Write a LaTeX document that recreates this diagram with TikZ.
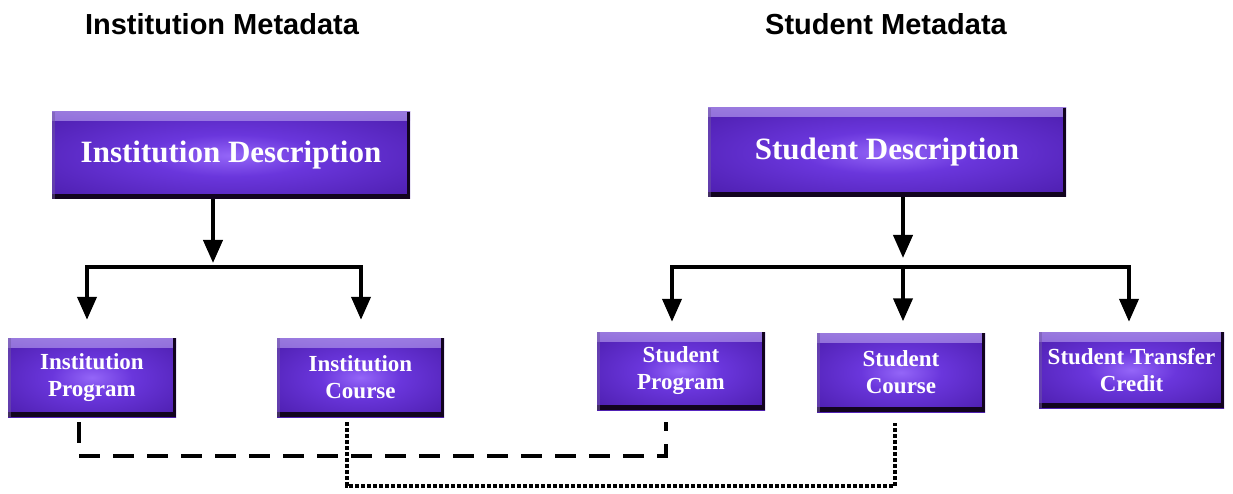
\documentclass[tikz,border=0pt]{standalone}
\usepackage{fontspec}
\setmainfont{Liberation Serif}
\setsansfont{Liberation Sans}
\usetikzlibrary{arrows.meta}
\definecolor{pIn}{HTML}{9466F8}
\definecolor{pMid}{HTML}{6A36DC}
\definecolor{pOut}{HTML}{4E1FB0}
\definecolor{pEdge}{HTML}{36107E}
\definecolor{pDark}{HTML}{12041F}
\definecolor{pHi}{HTML}{B9A0F2}
\pgfdeclareradialshading{glow}{\pgfpoint{0bp}{0bp}}{color(0bp)=(pIn); color(12bp)=(pMid); color(34bp)=(pOut); color(50bp)=(pEdge)}
\tikzset{
  box/.style={rectangle, inner sep=2pt, shading=glow, text=white, align=center,
    font=\bfseries\fontsize{23}{27}\selectfont,
    path picture={
      \shade[top color=pHi, bottom color=pOut, opacity=0.7]
        (path picture bounding box.north west) rectangle ([yshift=-9pt]path picture bounding box.north east);
      \fill[pDark] (path picture bounding box.south west) rectangle ([yshift=5pt]path picture bounding box.south east);
      \fill[pDark] ([xshift=-3pt]path picture bounding box.south east) rectangle (path picture bounding box.north east);
      \fill[pEdge!70!white, opacity=0.5] (path picture bounding box.south west) rectangle ([xshift=3pt]path picture bounding box.north west);
    }},
  bigbox/.style={font=\bfseries\fontsize{31}{36}\selectfont},
}
\begin{document}
\begin{tikzpicture}[x=1pt,y=-1pt, line join=miter,
  arr/.style={line width=4pt, -{Triangle[width=19pt,length=23pt]}},
  arrs/.style={line width=4pt, {Triangle[width=19pt,length=23pt]}-{Triangle[width=19pt,length=23pt]}},
  dashline/.style={line width=3.5pt, dash pattern=on 21pt off 13pt},
  dotline/.style={line width=4.5pt, dash pattern=on 4pt off 2pt},
  title/.style={font=\sffamily\bfseries\fontsize{29}{34}\selectfont, anchor=base},
]
\useasboundingbox (0,0) rectangle (1233,494);
\node[title] (t1) at (222,35) {Institution Metadata};
\node[title] (t2) at (886,35) {Student Metadata};

\node[box, bigbox, minimum width=358pt, minimum height=87pt] (ID) at (231,155.5) {Institution Description};
\node[box, bigbox, minimum width=358pt, minimum height=89pt] (SD) at (887,152.5) {Student Description};

\node[box, minimum width=168pt, minimum height=79pt] (IP) at (92,377.5) {Institution\\Program};
\node[box, minimum width=167pt, minimum height=79pt] (IC) at (360.5,377.5) {Institution\\Course};
\node[box, minimum width=168pt, minimum height=78pt] (SP) at (681,371) {Student\\Program};
\node[box, minimum width=168pt, minimum height=79pt] (SC) at (901,372.5) {Student\\Course};
\node[box, minimum width=185pt, minimum height=76pt] (STC) at (1131.5,370) {Student Transfer\\Credit};

% institution tree
\coordinate (ist) at (213,263);
\coordinate (ibar) at (213,267);
\draw[arr] (ID.south -| ist) -- (ist);
\path (IP.north) ++(-5,-18) coordinate (ia);
\path (IC.north) ++(0.5,-18) coordinate (ib);
\draw[arrs] (ia) |- (ibar) -| (ib);

% student tree
\coordinate (sst) at (903,258);
\coordinate (sbar) at (903,267);
\draw[arr] (SD.south -| sst) -- (sst);
\path (SP.north) ++(-9,-10) coordinate (sa);
\path (SC.north) ++(2,-11.5) coordinate (sb);
\path (STC.north) ++(-2.5,-10) coordinate (sc);
\draw[arrs] (sa) |- (sbar) -| (sc);
\draw[arr] (sbar) -- (sb);

% cross links
\coordinate (d1) at (79,456);
\coordinate (d2) at (666,456);
\draw[dashline, shorten <=5pt, shorten >=12pt] (IP.south -| d1) -- (d1) -- (d2) -- (SP.south -| d2);
\coordinate (o1) at (347,486);
\coordinate (o2) at (895,486);
\draw[dotline, shorten <=5pt, shorten >=11pt] (IC.south -| o1) -- (o1) -- (o2) -- (SC.south -| o2);
\end{tikzpicture}
\end{document}
